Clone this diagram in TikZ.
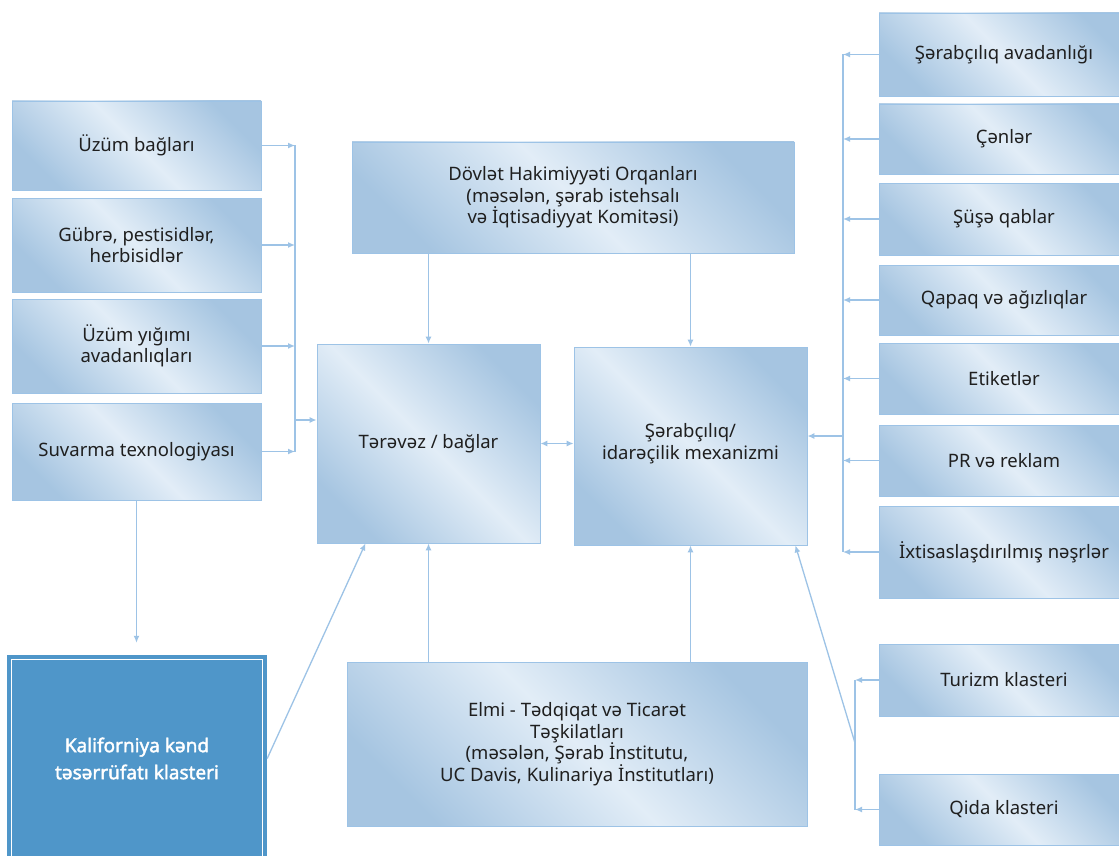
\documentclass[tikz,border=0pt]{standalone}
\usepackage{fontspec}
\setmainfont{Noto Sans}
\newfontfamily\kalfont[FakeBold=2]{Noto Sans}
\usetikzlibrary{arrows.meta}
\definecolor{lineblue}{RGB}{157,195,230}
\definecolor{boxdark}{RGB}{166,197,225}
\definecolor{boxlight}{RGB}{226,237,247}
\definecolor{kalblue}{RGB}{79,150,201}
\tikzset{
  box/.style={draw=lineblue, line width=0.8pt, top color=boxdark, bottom color=boxdark,
    middle color=boxlight, shading angle=-45, align=center, inner sep=0pt,
    text=black!88, font=\fontsize{18.5}{21.5}\selectfont},
  line/.style={draw=lineblue, line width=1.3pt},
  arr/.style={line, -{Latex[length=7pt,width=6pt]}},
  twoarr/.style={line, {Latex[length=7pt,width=6pt]}-{Latex[length=7pt,width=6pt]}}
}
\begin{document}
\begin{tikzpicture}[x=1pt,y=-1pt]
\useasboundingbox[fill=white] (0,0) rectangle (1119,856);

\node[box, minimum width=249pt, minimum height=89pt] (uzum) at (136.5,145.5) {Üzüm bağları};
\node[box, minimum width=249pt, minimum height=94pt] (gubre) at (136.5,245) {Gübrə, pestisidlər,\\herbisidlər};
\node[box, minimum width=249pt, minimum height=94pt] (yigim) at (136.5,346) {Üzüm yığımı\\avadanlıqları};
\node[box, minimum width=249pt, minimum height=97pt] (suvarma) at (136.5,451.5) {Suvarma texnologiyası};

\node[fill=kalblue, minimum width=260pt, minimum height=207pt, inner sep=0pt, align=center,
  text=white, font=\fontsize{19}{27}\selectfont\kalfont] (kal) at (137,758.5)
  {Kaliforniya kənd\\təsərrüfatı klasteri};
\draw[white, line width=1.3pt] ([shift={(5,5)}]kal.north west) rectangle ([shift={(-5,-5)}]kal.south east);

\node[box, minimum width=442pt, minimum height=111pt] (dovlet) at (573,197.5)
  {Dövlət Hakimiyyəti Orqanları\\(məsələn, şərab istehsalı\\və İqtisadiyyat Komitəsi)};
\node[box, minimum width=223pt, minimum height=199pt] (terevez) at (428.5,443.5) {Tərəvəz / bağlar};
\node[box, minimum width=233pt, minimum height=198pt] (sarab) at (690.5,446)
  {\mbox{}\\[-12pt]Şərabçılıq/\\idarəçilik mexanizmi};
\node[box, minimum width=460pt, minimum height=164pt] (elmi) at (577,744)
  {Elmi - Tədqiqat və Ticarət\\Təşkilatları\\(məsələn, Şərab İnstitutu,\\UC Davis, Kulinariya İnstitutları)};

\node[box, minimum width=250pt, minimum height=83pt] (avad) at (1004,54.5) {Şərabçılıq avadanlığı};
\node[box, minimum width=250pt, minimum height=70pt] (cen) at (1004,139) {Çənlər};
\node[box, minimum width=250pt, minimum height=72pt] (suse) at (1004,219) {Şüşə qablar};
\node[box, minimum width=250pt, minimum height=70pt] (qapaq) at (1004,300) {Qapaq və ağızlıqlar};
\node[box, minimum width=250pt, minimum height=71pt] (etiket) at (1004,378.5) {Etiketlər};
\node[box, minimum width=250pt, minimum height=71pt] (pr) at (1004,460.5) {PR və reklam};
\node[box, minimum width=250pt, minimum height=92pt] (nesr) at (1004,552) {İxtisaslaşdırılmış nəşrlər};

\node[box, minimum width=250pt, minimum height=72pt] (turizm) at (1004,680) {Turizm klasteri};
\node[box, minimum width=250pt, minimum height=71pt] (qida) at (1004,809.5) {Qida klasteri};

\coordinate (lbus) at (295,0);
\coordinate (lfeed) at (295,420);
\foreach \b in {uzum,gubre,yigim,suvarma}
  \draw[arr] (\b.east) -- (\b.east -| lbus);
\draw[line] (uzum.east -| lbus) -- (suvarma.east -| lbus);
\draw[arr] (lfeed) -- (lfeed -| terevez.west);

\coordinate (rbus) at (843,0);
\coordinate (rfeed) at (843,436);
\foreach \b in {avad,cen,suse,qapaq,etiket,pr,nesr}
  \draw[arr] (\b.west) -- (\b.west -| rbus);
\draw[line] (avad.west -| rbus) -- (nesr.west -| rbus);
\draw[arr] (rfeed) -- (rfeed -| sarab.east);

\coordinate (cbus) at (855,0);
\coordinate (cfeed) at (855,743);
\foreach \b in {turizm,qida}
  \draw[arr] (\b.west) -- (\b.west -| cbus);
\draw[line] (turizm.west -| cbus) -- (qida.west -| cbus);
\draw[arr] (cfeed) -- ([xshift=-12pt]sarab.south east);

\draw[arr] (terevez.north |- dovlet.south) -- (terevez.north);
\draw[arr] (sarab.north |- dovlet.south) -- (sarab.north);
\draw[arr] (terevez.south |- elmi.north) -- (terevez.south);
\draw[arr] (sarab.south |- elmi.north) -- (sarab.south);
\draw[twoarr] (terevez.east) -- (terevez.east -| sarab.west);

\draw[arr, shorten >=12pt] (suvarma.south) -- (suvarma.south |- kal.north);
\draw[arr] (kal.east) -- ([xshift=-63pt]terevez.south);
\end{tikzpicture}
\end{document}
